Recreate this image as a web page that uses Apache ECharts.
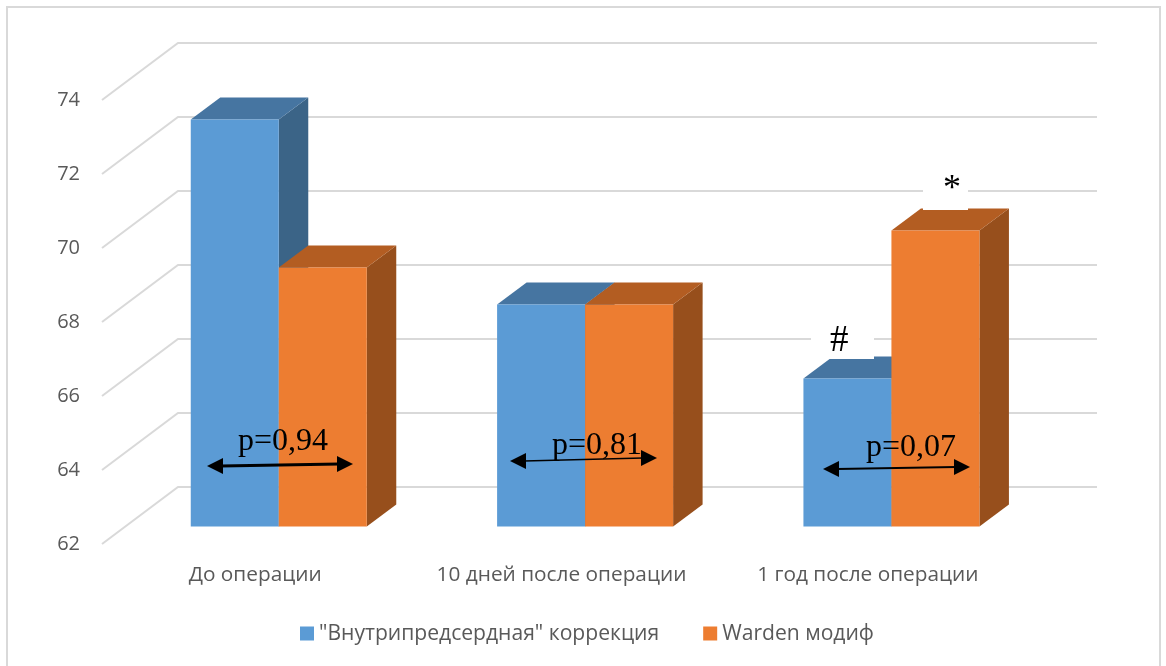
<!DOCTYPE html>
<html>
<head>
<meta charset="utf-8">
<style>html,body{margin:0;padding:0;background:#fff}#chart{width:1166px;height:666px}</style>
<script src="https://cdn.jsdelivr.net/npm/echarts@6/dist/echarts.min.js"></script>
</head>
<body>
<div id="chart"></div>
<script>
const categories = ['До операции', '10 дней после операции', '1 год после операции'];
const atrialValues = [73, 68, 66];
const wardenValues = [69, 68, 70];
const yTicks = [62, 64, 66, 68, 70, 72, 74];
const seriesNames = ['"Внутрипредсердная" коррекция', 'Warden модиф'];
const pLabels = ['p=0,94', 'p=0,81', 'p=0,07'];

// Oblique projection used by the walls and the boxes
const WALL_DX = 76, WALL_DY = 57;
const BAR_SHIFT_X = 23.6, BAR_SHIFT_Y = 17.5;
const BOX_W = 88, BOX_DX = 29.5, BOX_DY = 22;

const chart = echarts.init(document.getElementById('chart'), null, { renderer: 'canvas' });

// Back wall grid line with its diagonal on the side wall
function renderWall(params, api) {
  const p = api.coord([0, api.value(0)]);
  const x0 = params.coordSys.x;
  const y = p[1];
  return {
    type: 'polyline',
    shape: { points: [[x0, y], [x0 + WALL_DX, y - WALL_DY], [x0 + WALL_DX + 919, y - WALL_DY]] },
    style: { stroke: '#d9d9d9', lineWidth: 2, fill: null }
  };
}

// One box: front face, top face and right side, extruded from the value on the y axis
function boxRenderer(side, front, top, right) {
  return function (params, api) {
    const cat = api.value(0);
    const topPt = api.coord([cat, api.value(1)]);
    const basePt = api.coord([cat, yTicks[0]]);
    const x0 = topPt[0] + BAR_SHIFT_X + (side < 0 ? -BOX_W : 0);
    const x1 = x0 + BOX_W;
    const yt = topPt[1] - BAR_SHIFT_Y;
    const yb = basePt[1] - BAR_SHIFT_Y;
    return {
      type: 'group',
      children: [
        { type: 'polygon', shape: { points: [[x1, yt], [x1 + BOX_DX, yt - BOX_DY], [x1 + BOX_DX, yb - BOX_DY], [x1, yb]] }, style: { fill: right } },
        { type: 'polygon', shape: { points: [[x0, yt], [x0 + BOX_DX, yt - BOX_DY], [x1 + BOX_DX, yt - BOX_DY], [x1, yt]] }, style: { fill: top } },
        { type: 'rect', shape: { x: x0, y: yt, width: BOX_W, height: yb - yt }, style: { fill: front } }
      ]
    };
  };
}

// Double-headed arrow between two points
function arrow(x1, y1, x2, y2, width) {
  const head = 16, half = 8;
  return [
    { type: 'line', z: 101, shape: { x1: x1 + head - 2, y1: y1, x2: x2 - head + 2, y2: y2 }, style: { stroke: '#000', lineWidth: width } },
    { type: 'polygon', z: 101, shape: { points: [[x1, y1], [x1 + head, y1 - half], [x1 + head, y1 + half]] }, style: { fill: '#000' } },
    { type: 'polygon', z: 101, shape: { points: [[x2, y2], [x2 - head, y2 - half], [x2 - head, y2 + half]] }, style: { fill: '#000' } }
  ];
}

function serifText(text, x, baseline, size) {
  return {
    type: 'text', z: 102, x: x, y: baseline,
    style: { text: text, fill: '#000', font: size + 'px "Liberation Serif", serif', textAlign: 'left', textVerticalAlign: 'bottom' }
  };
}

const option = {
  animation: false,
  backgroundColor: '#fff',
  textStyle: { fontFamily: '"Open Sans", sans-serif' },
  grid: { left: 102, top: 100, width: 919, height: 444 },
  xAxis: {
    type: 'category',
    data: categories,
    axisLine: { show: false },
    axisTick: { show: false },
    axisLabel: { color: '#595959', fontSize: 20.8, margin: 21, interval: 0, hideOverlap: false }
  },
  yAxis: {
    type: 'value',
    min: yTicks[0],
    max: yTicks[yTicks.length - 1],
    interval: 2,
    splitLine: { show: false },
    axisLine: { show: false },
    axisTick: { show: false },
    axisLabel: { color: '#595959', fontSize: 20, margin: 22 }
  },
  legend: {
    left: 295, top: 618,
    icon: 'rect',
    itemWidth: 14, itemHeight: 14,
    itemGap: 44,
    textStyle: { color: '#595959', fontSize: 21.1 },
    data: seriesNames
  },
  series: [
    {
      type: 'custom', name: 'wall', silent: true, clip: false, z: 1,
      renderItem: renderWall,
      encode: { y: 0 },
      data: yTicks.map(v => [v])
    },
    {
      type: 'custom', name: seriesNames[0], clip: false, z: 2,
      itemStyle: { color: '#5B9BD5' },
      renderItem: boxRenderer(-1, '#5B9BD5', '#4675A1', '#3B6487'),
      encode: { x: 0, y: 1 },
      data: atrialValues.map((v, i) => [i, v])
    },
    {
      type: 'custom', name: seriesNames[1], clip: false, z: 3,
      itemStyle: { color: '#ED7D31' },
      renderItem: boxRenderer(1, '#ED7D31', '#B35D22', '#974F1C'),
      encode: { x: 0, y: 1 },
      data: wardenValues.map((v, i) => [i, v])
    }
  ],
  graphic: [
    { type: 'rect', z: 0, silent: true, shape: { x: 7, y: 7, width: 1153, height: 720 }, style: { fill: null, stroke: '#d9d9d9', lineWidth: 2 } },
    { type: 'rect', z: 100, shape: { x: 811, y: 326, width: 63, height: 33 }, style: { fill: '#fff' } },
    { type: 'rect', z: 100, shape: { x: 923, y: 168, width: 45, height: 42 }, style: { fill: '#fff' } },
    serifText('#', 830, 360, 37),
    serifText('*', 943, 208, 36),
    serifText(pLabels[0], 238, 458, 32),
    serifText(pLabels[1], 552, 462, 32),
    serifText(pLabels[2], 866, 464, 32),
    ...arrow(207, 466, 353, 464, 3),
    ...arrow(510, 461, 657, 458, 1.5),
    ...arrow(823, 469, 970, 467, 2)
  ]
};
chart.setOption(option);
</script>
</body>
</html>
